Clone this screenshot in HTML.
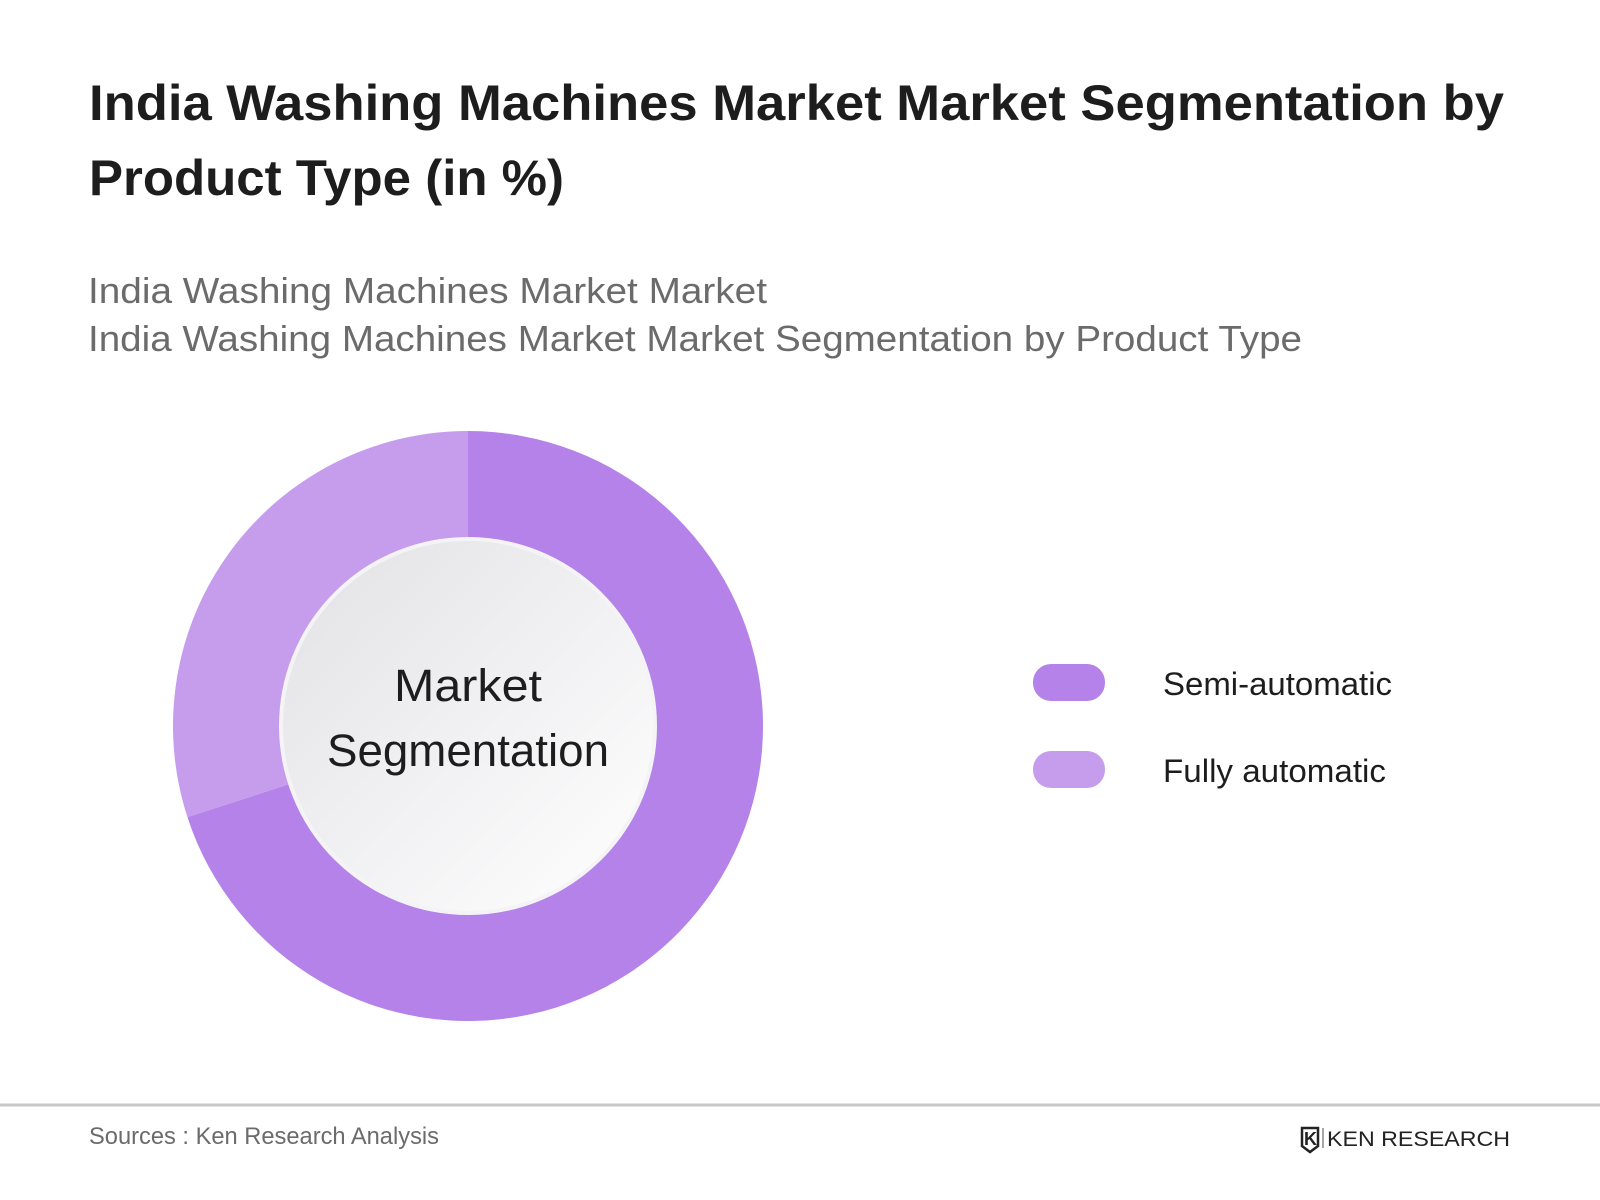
<!DOCTYPE html>
<html><head><meta charset="utf-8"><style>
body{margin:0;background:#fff;width:1600px;height:1200px;overflow:hidden;font-family:"Liberation Sans",sans-serif;}
svg{display:block}
</style></head><body>
<svg width="1600" height="1200" viewBox="0 0 1600 1200">
<defs>
<linearGradient id="hole" x1="0" y1="0" x2="1" y2="1">
<stop offset="0" stop-color="#e2e2e6"/><stop offset="1" stop-color="#ffffff"/>
</linearGradient>
</defs>
<text x="89" y="120" font-size="50" font-weight="bold" fill="#1d1d1d" textLength="1415" lengthAdjust="spacingAndGlyphs">India Washing Machines Market  Market Segmentation by</text>
<text x="89" y="195" font-size="50" font-weight="bold" fill="#1d1d1d" textLength="475" lengthAdjust="spacingAndGlyphs">Product Type (in %)</text>
<text x="88" y="303" font-size="36" fill="#6b6b6b" textLength="679" lengthAdjust="spacingAndGlyphs">India Washing Machines Market Market</text>
<text x="88" y="351" font-size="36" fill="#6b6b6b" textLength="1214" lengthAdjust="spacingAndGlyphs">India Washing Machines Market Market Segmentation by Product Type</text>
<g id="donut"></g>
<circle cx="468" cy="726" r="187" fill="url(#hole)" stroke="#f4f4f6" stroke-width="4"/>
<text x="468" y="701" font-size="45" text-anchor="middle" fill="#1d1d1d" textLength="148" lengthAdjust="spacingAndGlyphs">Market</text>
<text x="468" y="766" font-size="45" text-anchor="middle" fill="#1d1d1d" textLength="282" lengthAdjust="spacingAndGlyphs">Segmentation</text>
<g id="legend"></g>
<line x1="0" y1="1105" x2="1600" y2="1105" stroke="#c8c8c8" stroke-width="3"/>
<text x="89" y="1144" font-size="24" fill="#6b6b6b" textLength="350" lengthAdjust="spacingAndGlyphs">Sources : Ken Research Analysis</text>
<g>
<path d="M1302 1128 h16 v18 l-8 6 l-8 -6 z" fill="none" stroke="#222" stroke-width="2.5"/>
<text x="1304" y="1145" font-size="18" font-weight="bold" fill="#222">K</text>
<line x1="1323" y1="1128" x2="1323" y2="1148" stroke="#888" stroke-width="1.5"/>
<text x="1327" y="1146" font-size="21" fill="#222" textLength="183" lengthAdjust="spacingAndGlyphs">KEN RESEARCH</text>
</g>
</svg>
<script>
const categories = ["Semi-automatic", "Fully automatic"];
const shares = [70, 30];
const colors = ["#b482e9", "#c69ded"];
const labelWidths = [229, 223];
const NS = "http://www.w3.org/2000/svg";
const cx = 468, cy = 726, R = 295, r = 187;
const g = document.getElementById("donut");
const total = shares.reduce((a, b) => a + b, 0);
function pt(rad, frac){const a = frac*2*Math.PI; return [cx + rad*Math.sin(a), cy - rad*Math.cos(a)];}
let acc = 0;
shares.forEach((v, i) => {
  const f0 = acc/total, f1 = (acc+v)/total; acc += v;
  const [x0,y0]=pt(R,f0),[x1,y1]=pt(R,f1),[x2,y2]=pt(r,f1),[x3,y3]=pt(r,f0);
  const large = (f1-f0) > 0.5 ? 1 : 0;
  const p = document.createElementNS(NS, "path");
  p.setAttribute("d", `M${x0},${y0} A${R},${R} 0 ${large} 1 ${x1},${y1} L${x2},${y2} A${r},${r} 0 ${large} 0 ${x3},${y3} Z`);
  p.setAttribute("fill", colors[i]);
  
  
  g.appendChild(p);
});
const lg = document.getElementById("legend");
categories.forEach((c, i) => {
  const y = 664 + i*87;
  const rect = document.createElementNS(NS, "rect");
  rect.setAttribute("x", 1033); rect.setAttribute("y", y);
  rect.setAttribute("width", 72); rect.setAttribute("height", 37);
  rect.setAttribute("rx", 18); rect.setAttribute("fill", colors[i]);
  
  
  lg.appendChild(rect);
  const t = document.createElementNS(NS, "text");
  t.setAttribute("x", 1163); t.setAttribute("y", y + 31);
  t.setAttribute("font-size", 32); t.setAttribute("fill", "#1d1d1d");
  t.setAttribute("textLength", labelWidths[i]);
  t.setAttribute("lengthAdjust", "spacingAndGlyphs");
  t.textContent = c;
  
  
  lg.appendChild(t);
});
</script>
</body></html>
